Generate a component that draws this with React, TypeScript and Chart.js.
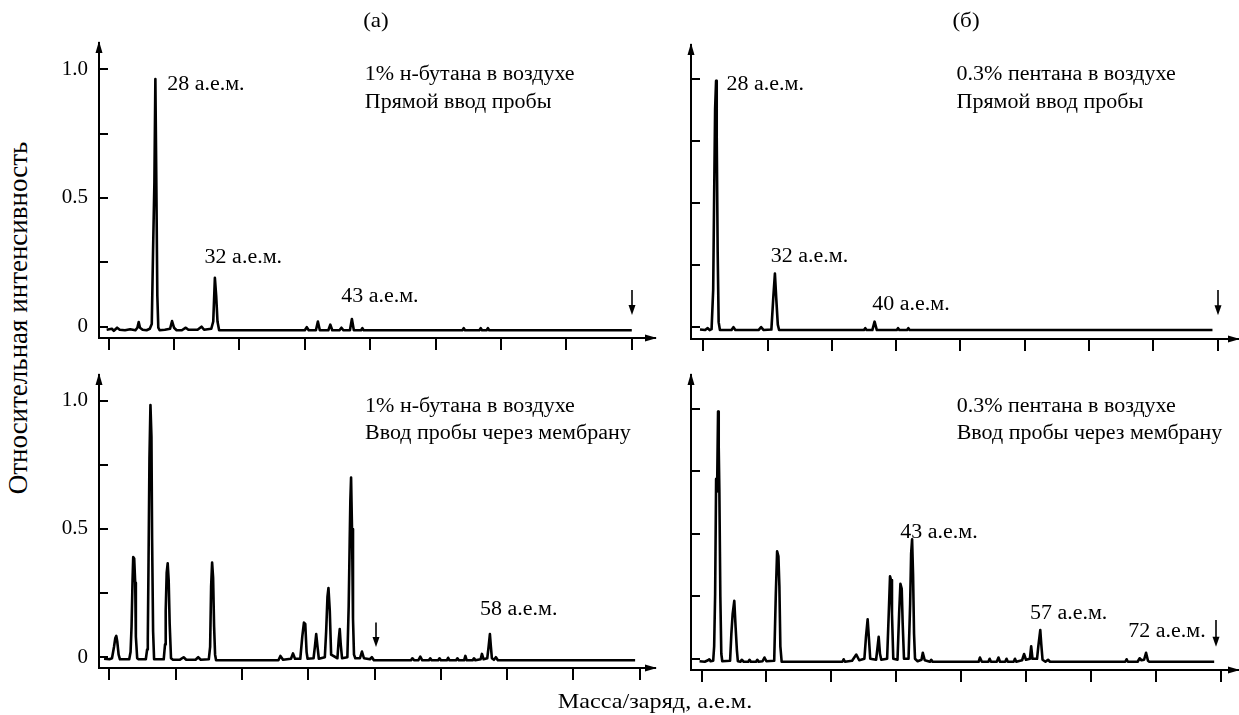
import React, { useEffect, useRef } from 'react';
import { Chart, registerables } from 'chart.js';

Chart.register(...registerables);

const FONT = '"Liberation Serif", "Times New Roman", serif';

// ---------- DATA (x: scan position in tick units, y: relative intensity) ----------
const butaneDirect: [number, number][] = [
  [-0.03, -0.012], [0.05, -0.008], [0.08, -0.016], [0.13, -0.004], [0.17, -0.012], [0.25, -0.014], [0.33, -0.01],
  [0.41, -0.014], [0.44, -0.004], [0.46, 0.018], [0.48, -0.004], [0.52, -0.012], [0.58, -0.014], [0.63, -0.008],
  [0.66, 0.01], [0.68, 0.3], [0.7, 0.56], [0.715, 0.962], [0.73, 0.55], [0.745, 0.12], [0.76, -0.004], [0.78, -0.014],
  [0.86, -0.012], [0.94, -0.008], [0.97, 0.022], [1.0, -0.004], [1.04, -0.014], [1.12, -0.014], [1.18, -0.004],
  [1.22, -0.012], [1.36, -0.012], [1.42, 0.0], [1.46, -0.012], [1.57, -0.008], [1.6, 0.02], [1.625, 0.19],
  [1.645, 0.12], [1.665, 0.02], [1.69, -0.014], [3.0, -0.014], [3.03, -0.002], [3.06, -0.014], [3.17, -0.014],
  [3.2, 0.02], [3.23, -0.014], [3.36, -0.014], [3.39, 0.008], [3.42, -0.014], [3.53, -0.014], [3.56, -0.004],
  [3.59, -0.014], [3.69, -0.014], [3.72, 0.03], [3.75, -0.014], [3.86, -0.014], [3.88, -0.006], [3.9, -0.014],
  [5.41, -0.014], [5.43, -0.006], [5.45, -0.014], [5.67, -0.014], [5.69, -0.006], [5.71, -0.014], [5.78, -0.014],
  [5.8, -0.006], [5.82, -0.014], [8.0, -0.014],
];

const pentaneDirect: [number, number][] = [
  [-0.05, -0.01], [0.03, -0.012], [0.07, -0.004], [0.1, -0.012], [0.13, -0.008], [0.155, 0.15], [0.17, 0.53],
  [0.185, 0.88], [0.2, 0.993], [0.21, 0.77], [0.225, 0.3], [0.24, 0.02], [0.26, -0.012], [0.44, -0.012],
  [0.47, 0.0], [0.5, -0.012], [0.86, -0.012], [0.9, 0.0], [0.94, -0.012], [1.06, -0.01], [1.09, 0.12],
  [1.115, 0.216], [1.135, 0.12], [1.16, 0.01], [1.18, -0.012], [2.5, -0.012], [2.52, -0.004], [2.54, -0.012],
  [2.63, -0.012], [2.665, 0.022], [2.7, -0.012], [3.01, -0.012], [3.03, -0.004], [3.05, -0.012], [3.17, -0.012],
  [3.19, -0.004], [3.21, -0.012], [7.92, -0.012],
];

const butaneMembrane: [number, number][] = [
  [-0.08, -0.006], [0.0, -0.008], [0.04, -0.004], [0.07, 0.04], [0.09, 0.075], [0.105, 0.083], [0.12, 0.06],
  [0.14, 0.01], [0.16, -0.008], [0.3, -0.008], [0.32, 0.02], [0.335, 0.12], [0.35, 0.3], [0.36, 0.39],
  [0.375, 0.385], [0.39, 0.29], [0.4, 0.08], [0.42, -0.004], [0.44, -0.008], [0.55, -0.008], [0.57, 0.03],
  [0.58, 0.07], [0.59, 0.34], [0.605, 0.775], [0.62, 0.983], [0.635, 0.86], [0.645, 0.46], [0.66, 0.1],
  [0.675, -0.008], [0.82, -0.008], [0.84, 0.05], [0.85, 0.18], [0.865, 0.33], [0.88, 0.366], [0.895, 0.3],
  [0.91, 0.13], [0.93, -0.004], [0.96, -0.01], [1.06, -0.01], [1.12, 0.0], [1.16, -0.01], [1.3, -0.01],
  [1.34, 0.0], [1.38, -0.01], [1.5, -0.008], [1.52, 0.04], [1.535, 0.275], [1.55, 0.369], [1.565, 0.31],
  [1.58, 0.12], [1.595, 0.01], [1.61, -0.012], [2.55, -0.012], [2.58, 0.005], [2.62, -0.01], [2.74, -0.006],
  [2.77, 0.015], [2.8, -0.006], [2.88, -0.006], [2.91, 0.08], [2.935, 0.135], [2.955, 0.13], [2.975, 0.02],
  [2.99, -0.006], [3.08, -0.004], [3.1, 0.04], [3.12, 0.09], [3.14, 0.04], [3.16, -0.006], [3.25, 0.0],
  [3.27, 0.1], [3.29, 0.236], [3.305, 0.27], [3.325, 0.18], [3.345, 0.01], [3.44, -0.004], [3.46, 0.07],
  [3.475, 0.11], [3.49, 0.05], [3.51, -0.004], [3.59, 0.0], [3.61, 0.2], [3.625, 0.45], [3.635, 0.61],
  [3.646, 0.7], [3.66, 0.5], [3.675, 0.15], [3.69, 0.01], [3.71, -0.004], [3.78, -0.004], [3.81, 0.022],
  [3.84, -0.004], [3.93, -0.008], [3.96, 0.0], [3.99, -0.012], [4.55, -0.012], [4.57, -0.004], [4.6, -0.012],
  [4.66, -0.012], [4.69, 0.002], [4.72, -0.012], [4.82, -0.012], [4.84, -0.004], [4.86, -0.012], [4.96, -0.012],
  [4.98, -0.004], [5.0, -0.012], [5.09, -0.012], [5.11, -0.002], [5.13, -0.012], [5.23, -0.012], [5.25, -0.004],
  [5.27, -0.012], [5.35, -0.012], [5.37, 0.005], [5.39, -0.012], [5.48, -0.012], [5.5, -0.004], [5.52, -0.012],
  [5.6, -0.008], [5.62, 0.013], [5.645, -0.008], [5.7, -0.004], [5.72, 0.04], [5.74, 0.09], [5.755, 0.04],
  [5.77, -0.004], [5.8, -0.01], [5.83, 0.0], [5.86, -0.012], [7.93, -0.012],
];

const pentaneMembrane: [number, number][] = [
  [-0.03, -0.01], [0.05, -0.012], [0.1, -0.006], [0.12, -0.002], [0.14, -0.01], [0.18, -0.008], [0.195, 0.05],
  [0.21, 0.26], [0.225, 0.72], [0.24, 0.67], [0.255, 0.99], [0.265, 0.85], [0.275, 0.675], [0.29, 0.25],
  [0.305, 0.02], [0.32, -0.01], [0.44, -0.008], [0.46, 0.1], [0.48, 0.18], [0.505, 0.232], [0.525, 0.128],
  [0.545, 0.035], [0.56, -0.01], [0.6, -0.012], [0.62, -0.004], [0.65, -0.012], [0.72, -0.012], [0.74, -0.004],
  [0.76, -0.012], [0.84, -0.012], [0.86, -0.004], [0.88, -0.012], [0.94, -0.01], [0.97, 0.005], [1.0, -0.01],
  [1.12, -0.008], [1.145, 0.26], [1.165, 0.43], [1.185, 0.41], [1.2, 0.29], [1.215, 0.05], [1.235, -0.012],
  [2.03, -0.012], [2.17, -0.012], [2.19, -0.002], [2.21, -0.012], [2.32, -0.008], [2.385, 0.017], [2.43, -0.006],
  [2.51, 0.0], [2.535, 0.09], [2.56, 0.158], [2.575, 0.1], [2.6, 0.0], [2.69, -0.004], [2.71, 0.04], [2.73, 0.088],
  [2.75, 0.02], [2.77, -0.004], [2.86, 0.0], [2.885, 0.18], [2.905, 0.33], [2.92, 0.315], [2.935, 0.18],
  [2.955, 0.0], [3.02, -0.004], [3.045, 0.18], [3.065, 0.3], [3.085, 0.28], [3.1, 0.14], [3.12, 0.0], [3.19, 0.0],
  [3.215, 0.22], [3.23, 0.42], [3.245, 0.478], [3.26, 0.335], [3.275, 0.1], [3.29, 0.0], [3.33, -0.01],
  [3.39, -0.004], [3.41, 0.024], [3.44, -0.006], [3.52, -0.012], [3.54, -0.004], [3.56, -0.012], [4.27, -0.012],
  [4.29, 0.005], [4.32, -0.012], [4.42, -0.012], [4.44, 0.0], [4.46, -0.012], [4.55, -0.012], [4.576, 0.005],
  [4.6, -0.012], [4.68, -0.012], [4.7, 0.0], [4.72, -0.012], [4.81, -0.012], [4.83, 0.0], [4.85, -0.012],
  [4.94, -0.006], [4.97, 0.019], [5.0, -0.004], [5.06, 0.0], [5.08, 0.05], [5.1, 0.0], [5.17, 0.0], [5.19, 0.05],
  [5.22, 0.115], [5.235, 0.06], [5.255, -0.004], [5.3, -0.012], [5.34, -0.004], [5.37, -0.012], [6.53, -0.012],
  [6.55, -0.002], [6.57, -0.012], [6.72, -0.012], [6.75, 0.002], [6.78, -0.006], [6.82, -0.004], [6.85, 0.024],
  [6.88, -0.008], [6.9, -0.012], [7.9, -0.012],
];

// peak labels and their anchor (x, y) in data units
const butaneDirectLabels = ['28 а.е.м.', '32 а.е.м.', '43 а.е.м.'];
const butaneDirectLabelAt: [number, number][] = [[0.895, 0.939], [1.468, 0.266], [3.556, 0.117]];
const pentaneDirectLabels = ['28 а.е.м.', '32 а.е.м.', '40 а.е.м.'];
const pentaneDirectLabelAt: [number, number][] = [[0.362, 0.976], [1.051, 0.285], [2.63, 0.089]];
const butaneMembraneLabels = ['58 а.е.м.'];
const butaneMembraneLabelAt: [number, number][] = [[5.59, 0.184]];
const pentaneMembraneLabels = ['43 а.е.м.', '57 а.е.м.', '72 а.е.м.'];
const pentaneMembraneLabelAt: [number, number][] = [[3.063, 0.503], [5.06, 0.179], [6.576, 0.108]];

// panel captions
const butaneDirectCaption = ['1% н-бутана в воздухе', 'Прямой ввод пробы'];
const pentaneDirectCaption = ['0.3% пентана в воздухе', 'Прямой ввод пробы'];
const butaneMembraneCaption = ['1% н-бутана в воздухе', 'Ввод пробы через мембрану'];
const pentaneMembraneCaption = ['0.3% пентана в воздухе', 'Ввод пробы через мембрану'];

// scan-end arrow markers: [x, yTop, yBottom]
const butaneDirectArrow = [8.0, 0.142, 0.045];
const pentaneDirectArrow = [8.0, 0.149, 0.048];
const butaneMembraneArrow = [4.02, 0.135, 0.04];
const pentaneMembraneArrow = [7.93, 0.155, 0.048];

const yTickLabels: Record<string, string> = { '0': '0', '0.5': '0.5', '1': '1.0' };

// ---------- LAYOUT ----------
const PAD_L = 60;
const PAD_T = 30;
const PAD_R = 14;
const PAD_B = 30;
const TEXT_SIZE = 20;
const TEXT_SX = 1.1;

type Panel = {
  frame: { L: number; T: number; R: number; B: number };
  xRange: [number, number];
  yRange: [number, number];
  points: [number, number][];
  labels: string[];
  labelAt: [number, number][];
  caption: string[];
  captionAt: [number, number, number];
  arrow: number[];
  showYLabels: boolean;
};

const panels: Panel[] = [
  {
    frame: { L: 99, T: 43, R: 655, B: 338 }, xRange: [-0.147, 8.355], yRange: [-0.044, 1.102],
    points: butaneDirect, labels: butaneDirectLabels, labelAt: butaneDirectLabelAt,
    caption: butaneDirectCaption, captionAt: [3.918, 0.978, 0.869], arrow: butaneDirectArrow, showYLabels: true,
  },
  {
    frame: { L: 691, T: 45, R: 1238, B: 339 }, xRange: [-0.19, 8.317], yRange: [-0.048, 1.137],
    points: pentaneDirect, labels: pentaneDirectLabels, labelAt: pentaneDirectLabelAt,
    caption: pentaneDirectCaption, captionAt: [3.94, 1.016, 0.906], arrow: pentaneDirectArrow, showYLabels: false,
  },
  {
    frame: { L: 99, T: 375, R: 655, B: 668 }, xRange: [-0.156, 8.23], yRange: [-0.042, 1.1],
    points: butaneMembrane, labels: butaneMembraneLabels, labelAt: butaneMembraneLabelAt,
    caption: butaneMembraneCaption, captionAt: [3.857, 0.975, 0.87], arrow: butaneMembraneArrow, showYLabels: true,
  },
  {
    frame: { L: 691, T: 375, R: 1238, B: 670 }, xRange: [-0.162, 8.267], yRange: [-0.045, 1.136],
    points: pentaneMembrane, labels: pentaneMembraneLabels, labelAt: pentaneMembraneLabelAt,
    caption: pentaneMembraneCaption, captionAt: [3.932, 1.008, 0.9], arrow: pentaneMembraneArrow, showYLabels: false,
  },
];

function drawText(ctx: CanvasRenderingContext2D, text: string, px: number, py: number) {
  ctx.save();
  ctx.translate(px, py);
  ctx.scale(TEXT_SX, 1);
  ctx.font = `${TEXT_SIZE}px ${FONT}`;
  ctx.textAlign = 'left';
  ctx.textBaseline = 'middle';
  ctx.fillStyle = '#000';
  ctx.fillText(text, 0, 0);
  ctx.restore();
}

function makeDecor(p: Panel) {
  return {
    id: 'panelDecor',
    afterDraw(chart: any) {
      const { ctx, chartArea: a, scales } = chart;
      const xs = scales.x;
      const ys = scales.y;
      ctx.save();
      ctx.strokeStyle = '#000';
      ctx.fillStyle = '#000';
      // inward y ticks
      ctx.lineWidth = 2;
      ys.ticks.forEach((t: any) => {
        const py = Math.round(ys.getPixelForValue(t.value));
        ctx.beginPath();
        ctx.moveTo(a.left, py);
        ctx.lineTo(a.left + 9, py);
        ctx.stroke();
      });
      // axis arrowheads
      ctx.beginPath();
      ctx.moveTo(a.left, a.top - 2);
      ctx.lineTo(a.left - 3.5, a.top + 10);
      ctx.lineTo(a.left + 3.5, a.top + 10);
      ctx.closePath();
      ctx.fill();
      ctx.beginPath();
      ctx.moveTo(a.right + 2, a.bottom);
      ctx.lineTo(a.right - 10, a.bottom - 3.5);
      ctx.lineTo(a.right - 10, a.bottom + 3.5);
      ctx.closePath();
      ctx.fill();
      // scan-end arrow
      const [ax, ay1, ay2] = p.arrow;
      const px = Math.round(xs.getPixelForValue(ax));
      const pt = ys.getPixelForValue(ay1);
      const pb = ys.getPixelForValue(ay2);
      ctx.lineWidth = 1.6;
      ctx.beginPath();
      ctx.moveTo(px, pt);
      ctx.lineTo(px, pb - 8);
      ctx.stroke();
      ctx.beginPath();
      ctx.moveTo(px, pb);
      ctx.lineTo(px - 3.5, pb - 10);
      ctx.lineTo(px + 3.5, pb - 10);
      ctx.closePath();
      ctx.fill();
      // peak labels
      p.labels.forEach((txt, i) => {
        const [lx, ly] = p.labelAt[i];
        drawText(ctx, txt, xs.getPixelForValue(lx), ys.getPixelForValue(ly));
      });
      // caption
      const [cx, cy1, cy2] = p.captionAt;
      drawText(ctx, p.caption[0], xs.getPixelForValue(cx), ys.getPixelForValue(cy1));
      drawText(ctx, p.caption[1], xs.getPixelForValue(cx), ys.getPixelForValue(cy2));
      ctx.restore();
    },
  };
}

function PanelChart({ p }: { p: Panel }) {
  const ref = useRef<HTMLCanvasElement | null>(null);
  const { L, T, R, B } = p.frame;
  const w = R - L + PAD_L + PAD_R;
  const h = B - T + PAD_T + PAD_B;
  useEffect(() => {
    if (!ref.current) return;
    const chart = new Chart(ref.current, {
      type: 'line',
      data: {
        datasets: [
          {
            data: p.points.map(([x, y]) => ({ x, y })),
            borderColor: '#000',
            borderWidth: 2.6,
            borderJoinStyle: 'round',
            pointRadius: 0,
            tension: 0,
            fill: false,
          },
        ],
      },
      options: {
        animation: false,
        responsive: false,
        devicePixelRatio: 1,
        layout: { padding: { left: 0, top: PAD_T, right: PAD_R, bottom: 0 } },
        plugins: {
          legend: { display: false },
          tooltip: { enabled: false },
          title: { display: false },
        },
        scales: {
          x: {
            type: 'linear',
            position: 'bottom',
            min: p.xRange[0],
            max: p.xRange[1],
            afterFit: (s: any) => {
              s.height = PAD_B;
            },
            ticks: { display: false, stepSize: 1, includeBounds: false, autoSkip: false, padding: 0 },
            grid: { display: true, drawOnChartArea: false, drawTicks: true, tickLength: 12, color: '#000', lineWidth: 2 },
            border: { display: true, color: '#000', width: 2 },
          },
          y: {
            type: 'linear',
            min: p.yRange[0],
            max: p.yRange[1],
            afterFit: (s: any) => {
              s.width = PAD_L;
            },
            ticks: {
              display: p.showYLabels,
              stepSize: 0.25,
              includeBounds: false,
              autoSkip: false,
              padding: 11,
              color: '#000',
              font: { family: FONT, size: 21 },
              callback: (v: any) => yTickLabels[String(v)] ?? '',
            },
            grid: { display: false, drawTicks: false },
            border: { display: true, color: '#000', width: 2 },
          },
        },
      } as any,
      plugins: [makeDecor(p)],
    });
    return () => chart.destroy();
  }, [p]);
  return (
    <canvas
      ref={ref}
      width={w}
      height={h}
      style={{ position: 'absolute', left: L - PAD_L, top: T - PAD_T, width: w, height: h }}
    />
  );
}

const textStyle: React.CSSProperties = {
  position: 'absolute',
  fontFamily: FONT,
  color: '#000',
  whiteSpace: 'nowrap',
  lineHeight: 1,
};

export default function App() {
  return (
    <div
      style={{
        position: 'absolute',
        left: 0,
        top: 0,
        width: 1239,
        height: 715,
        overflow: 'hidden',
        background: '#fff',
      }}
    >
      {panels.map((p, i) => (
        <PanelChart key={i} p={p} />
      ))}
      <div style={{ ...textStyle, left: 376, top: 20, fontSize: 21, transform: `translate(-50%, -50%) scaleX(${TEXT_SX})` }}>(а)</div>
      <div style={{ ...textStyle, left: 966, top: 20, fontSize: 21, transform: `translate(-50%, -50%) scaleX(${TEXT_SX})` }}>(б)</div>
      <div style={{ ...textStyle, left: 18, top: 318, fontSize: 27, transform: 'translate(-50%, -50%) rotate(-90deg)' }}>
        Относительная интенсивность
      </div>
      <div style={{ ...textStyle, left: 655, top: 701, fontSize: 22, transform: `translate(-50%, -50%) scaleX(${TEXT_SX})` }}>
        Масса/заряд, а.е.м.
      </div>
    </div>
  );
}
